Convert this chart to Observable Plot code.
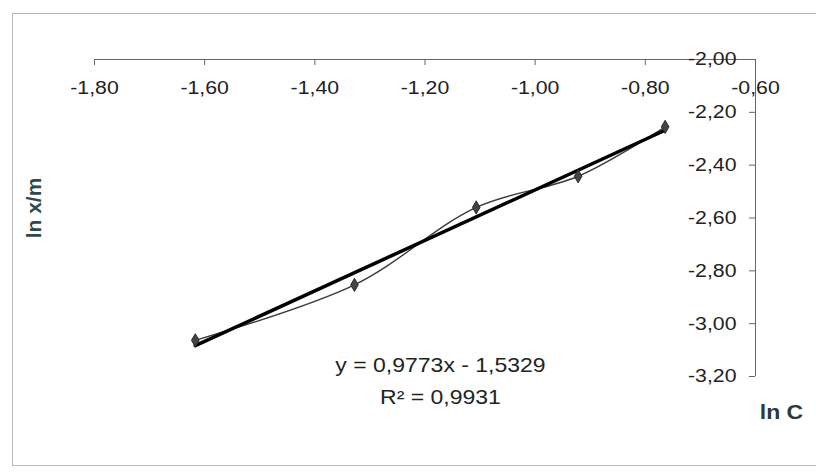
<!DOCTYPE html>
<html><head><meta charset="utf-8">
<script src="https://cdn.jsdelivr.net/npm/d3@7"></script>
<script src="https://cdn.jsdelivr.net/npm/@observablehq/plot@0.6"></script>
<style>body{margin:0;background:#fff;} #chart svg{display:block;}</style>
</head><body><div id="chart"></div>
<script>
// Data
const lnC  = [-1.617, -1.328, -1.107, -0.922, -0.764];
const lnXm = [-3.063, -2.853, -2.560, -2.442, -2.255];
const xTicks = [-1.8, -1.6, -1.4, -1.2, -1.0, -0.8, -0.6];
const yTicks = [-2.0, -2.2, -2.4, -2.6, -2.8, -3.0, -3.2];
const equationLine = "y = 0,9773x - 1,5329";
const r2Line = "R² = 0,9931";
const xTitle = "ln C";
const yTitle = "ln x/m";

const data = lnC.map((x, i) => ({x, y: lnXm[i]}));
const fmt = d => d.toFixed(2).replace(".", ",");
const ink = "#222";
const axisInk = "#666";

const chart = Plot.plot({
  width: 816, height: 472,
  marginLeft: 94, marginRight: 61, marginTop: 59, marginBottom: 96,
  x: {domain: [-1.8, -0.6], axis: null},
  y: {domain: [-3.2, -2.0], axis: null},
  style: {fontFamily: "'Liberation Sans', Arial, sans-serif", background: "#fff", overflow: "visible"},
  marks: [
    Plot.frame({stroke: "#b8b8b8", insetLeft: -82, insetTop: -46, insetRight: -120, insetBottom: -89}),
    Plot.ruleY([-2.0], {stroke: axisInk}),
    Plot.ruleX([-0.6], {stroke: axisInk}),
    Plot.ruleX(xTicks, {x: d => d, y1: -2.0, y2: -2.0, insetBottom: -6, stroke: axisInk}),
    Plot.ruleY(yTicks, {y: d => d, x1: -0.6, x2: -0.6, insetLeft: -6, stroke: axisInk}),
    Plot.text(xTicks, {x: d => d, y: -2.0, text: fmt, dy: 29, fontSize: 18.5, fill: ink}),
    Plot.text(yTicks, {x: -0.6, y: d => d, text: fmt, dx: -19, textAnchor: "end", fontSize: 18.5, fill: ink}),
    Plot.line(data, {x: "x", y: "y", curve: "catmull-rom", stroke: "#3a3a3a", strokeWidth: 1.4}),
    Plot.linearRegressionY(data, {x: "x", y: "y", ci: 0, stroke: "#000", strokeWidth: 3.5}),
    Plot.dot(data, {x: "x", y: "y", symbol: "diamond", r: 4, fill: "#444", stroke: "#2a2a2a", strokeWidth: 1}),
    Plot.text([equationLine], {frameAnchor: "bottom", text: d => d, dx: 15.5, dy: -5, fontSize: 20, fill: "#1c261c"}),
    Plot.text([r2Line], {frameAnchor: "bottom", text: d => d, dx: 15.5, dy: 27, fontSize: 20, fill: "#1c261c"}),
    Plot.text([xTitle], {frameAnchor: "bottom-right", textAnchor: "middle", text: d => d, dx: 26, dy: 42, fontSize: 20, fontWeight: "bold", fill: "#2c3a3a"}),
    Plot.text([yTitle], {frameAnchor: "left", textAnchor: "middle", text: d => d, rotate: -90, dx: -60, dy: -10, fontSize: 21, fontWeight: "bold", fill: "#2f4a4a"})
  ]
});

// Compensate for the horizontally wider lettering of the reference
chart.querySelectorAll("text").forEach(t => {
  const tr = t.getAttribute("transform") || "";
  if (!tr.includes("rotate") && tr.includes("translate")) t.setAttribute("transform", tr + " scale(1.15,1)");
});
document.getElementById("chart").append(chart);
</script>
</body></html>
